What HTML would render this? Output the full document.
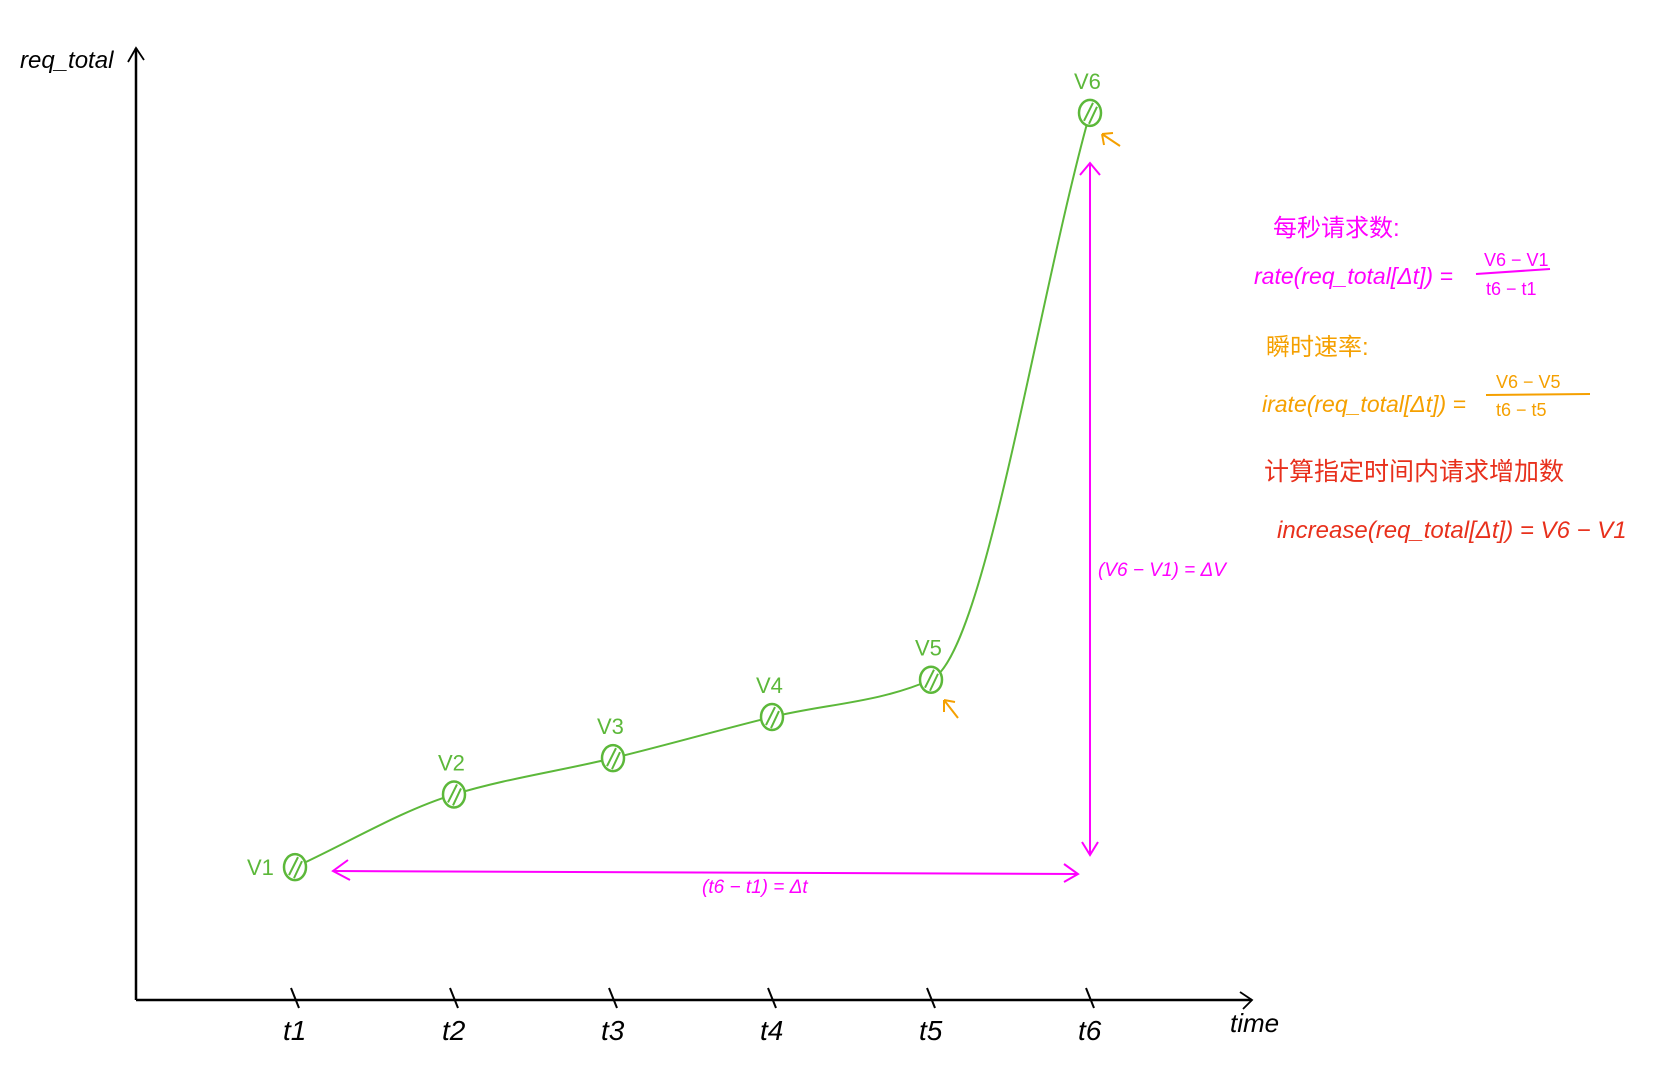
<!DOCTYPE html>
<html><head><meta charset="utf-8"><style>
html,body{margin:0;padding:0;background:#fff;}
svg{display:block;}
text{font-family:"Liberation Sans","Noto Sans CJK SC",sans-serif;}
</style></head><body>
<svg id="chart" width="1674" height="1090" viewBox="0 0 1674 1090" xmlns="http://www.w3.org/2000/svg">
  <g id="axes" stroke="#000" fill="none" stroke-width="2.5">
    <line x1="136" y1="1000" x2="136" y2="48"/>
    <path d="M128 62 L136 48 L144 60" stroke-width="1.8"/>
    <line x1="136" y1="1000" x2="1252" y2="1000"/>
    <path d="M1240 992 L1252 1000 L1243 1009" stroke-width="1.8"/>
  </g>
  <text x="20" y="68" font-size="24" font-style="italic" fill="#000">req_total</text>
  <text x="1230" y="1032" font-size="26" font-style="italic" fill="#000">time</text>
  <g id="ticks"></g>
  <g id="series"></g>
  <g id="annot" fill="none" stroke="#ff00ff" stroke-width="2">
    <line x1="333" y1="871" x2="1078" y2="874"/>
    <path d="M348 860 L333 871 L350 880"/>
    <path d="M1064 864 L1078 874 L1064 882"/>
    <line x1="1090" y1="163" x2="1090" y2="855"/>
    <path d="M1080 175 L1090 163 L1100 175"/>
    <path d="M1082 842 L1090 855 L1098 842"/>
  </g>
  <text x="702" y="893" font-size="19" fill="#ff00ff" font-style="italic">(t6 − t1) = Δt</text>
  <text x="1098" y="576" font-size="19" fill="#ff00ff" font-style="italic">(V6 − V1) = ΔV</text>
  <g stroke="#f5a000" stroke-width="2" fill="none">
    <path d="M958 718 L944 700 M944 700 L944 712 M944 700 L955 702"/>
    <path d="M1120 146 L1102 134 M1102 134 L1104 145 M1102 134 L1113 133"/>
  </g>
  <g id="formulas">
    <text x="1273" y="236" font-size="24" fill="#ff00ff">每秒请求数:</text>
    <text x="1254" y="284" font-size="23" fill="#ff00ff" font-style="italic">rate(req_total[Δt]) =</text>
    <text x="1484" y="266" font-size="18" fill="#ff00ff">V6 − V1</text>
    <line x1="1476" y1="274" x2="1550" y2="269" stroke="#ff00ff" stroke-width="2"/>
    <text x="1486" y="295" font-size="18" fill="#ff00ff">t6 − t1</text>
    <text x="1266" y="355" font-size="24" fill="#f5a000">瞬时速率:</text>
    <text x="1262" y="412" font-size="23" fill="#f5a000" font-style="italic">irate(req_total[Δt]) =</text>
    <text x="1496" y="388" font-size="18" fill="#f5a000">V6 − V5</text>
    <line x1="1486" y1="395" x2="1590" y2="394" stroke="#f5a000" stroke-width="2"/>
    <text x="1496" y="416" font-size="18" fill="#f5a000">t6 − t5</text>
    <text x="1264" y="480" font-size="25" fill="#e8301c">计算指定时间内请求增加数</text>
    <text x="1277" y="538" font-size="24" fill="#e8301c" font-style="italic">increase(req_total[Δt]) = V6 − V1</text>
  </g>
</svg>
<script>
const categories = ["t1","t2","t3","t4","t5","t6"];
const pointLabels = ["V1","V2","V3","V4","V5","V6"];
const values = [13.9, 21.5, 25.3, 29.6, 33.5, 92.8];
const ns = "http://www.w3.org/2000/svg";
const X0 = 295, XSTEP = 159, Y0 = 1000, Y1 = 44, VMAX = 100;
function xScale(i){ return X0 + i * XSTEP; }
function yScale(v){ return Y0 - (v / VMAX) * (Y0 - Y1); }
function mk(tag, attrs, parent){
  const e = document.createElementNS(ns, tag);
  for (const k in attrs) e.setAttribute(k, attrs[k]);
  parent.appendChild(e);
  return e;
}
const ticks = document.getElementById('ticks');
categories.forEach((c, i) => {
  const x = xScale(i);
  const t = mk('line', {x1: x - 4, y1: 988, x2: x + 4, y2: 1008, stroke: '#000', 'stroke-width': 2}, ticks);
  
  
  const lb = mk('text', {x: x - 12, y: 1040, 'font-size': 28, 'font-style': 'italic', fill: '#000'}, ticks);
  lb.textContent = c;
  
  
});
const series = document.getElementById('series');
const pts = values.map((v, i) => [xScale(i), yScale(v)]);
// monotone cubic (Fritsch-Carlson) tangents
const n = pts.length;
const sl = [];
for (let i = 0; i < n - 1; i++) sl.push((pts[i+1][1] - pts[i][1]) / (pts[i+1][0] - pts[i][0]));
const m = [];
for (let i = 0; i < n; i++) {
  if (i === 0) m.push(sl[0]);
  else if (i === n - 1) m.push(sl[n-2]);
  else if (sl[i-1] * sl[i] <= 0) m.push(0);
  else m.push(2 / (1 / sl[i-1] + 1 / sl[i]));
}
let d = 'M' + pts[0][0] + ' ' + pts[0][1];
for (let i = 0; i < n - 1; i++) {
  const h = pts[i+1][0] - pts[i][0];
  d += ' C' + (pts[i][0] + h/3) + ' ' + (pts[i][1] + m[i]*h/3) + ' ' + (pts[i+1][0] - h/3) + ' ' + (pts[i+1][1] - m[i+1]*h/3) + ' ' + pts[i+1][0] + ' ' + pts[i+1][1];
}
const line = mk('path', {d: d, fill: 'none', stroke: '#5cb83a', 'stroke-width': 2}, series);


pts.forEach((p, i) => {
  const c = mk('ellipse', {cx: p[0], cy: p[1], rx: 11, ry: 13, fill: '#fff', stroke: '#5cb83a', 'stroke-width': 2.5}, series);
  
  
  const h = mk('path', {d: 'M' + (p[0]-6) + ' ' + (p[1]+8) + ' L' + (p[0]+3) + ' ' + (p[1]-10) + ' M' + (p[0]-1) + ' ' + (p[1]+11) + ' L' + (p[0]+7) + ' ' + (p[1]-6), stroke: '#5cb83a', 'stroke-width': 2, fill: 'none'}, series);
  
  
  const lx = i === 0 ? p[0] - 48 : p[0] - 16;
  const ly = i === 0 ? p[1] + 8 : p[1] - 24;
  const t = mk('text', {x: lx, y: ly, 'font-size': 22, fill: '#5cb83a'}, series);
  t.textContent = pointLabels[i];
  
  
});
</script>
</body></html>
